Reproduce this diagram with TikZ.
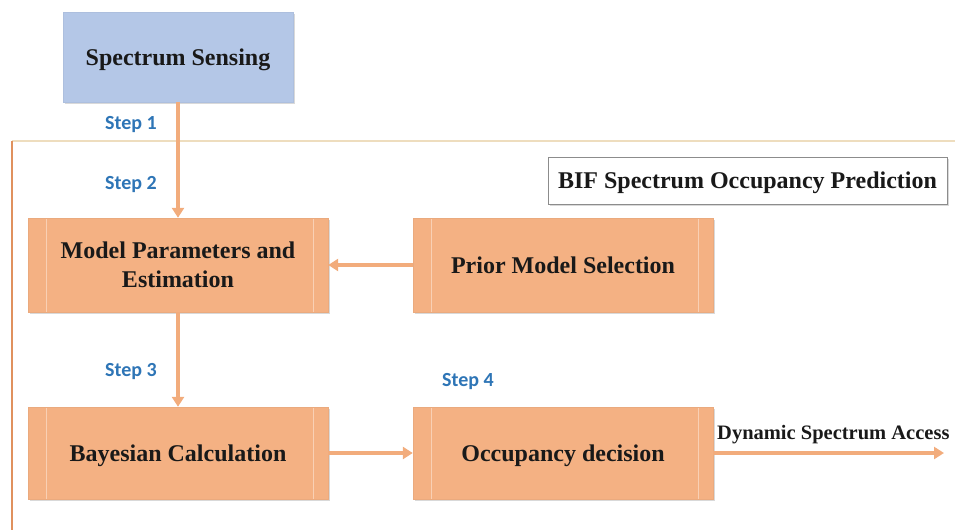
\documentclass[tikz,border=0pt]{standalone}
\usepackage{fontspec}
\setmainfont{Liberation Serif}
\newfontfamily\stepfont{Carlito}
\usetikzlibrary{arrows.meta,shadows}
\definecolor{procfill}{HTML}{F4B183}
\definecolor{procline}{HTML}{F9D0B4}
\definecolor{sensefill}{HTML}{B4C7E7}
\definecolor{flow}{HTML}{F2AC7C}
\definecolor{steptext}{HTML}{2E75B6}
\definecolor{frameleft}{HTML}{E0915E}
\definecolor{frametop}{HTML}{EEDDBE}
\begin{document}
\begin{tikzpicture}[x=1pt,y=-1pt,
  boxtext/.style={font=\bfseries\fontsize{24}{29}\selectfont, align=center, text=black!90},
  oneline/.style={text depth=0pt},
  shade box/.style={drop shadow={shadow xshift=1.5pt, shadow yshift=-2pt, opacity=0.3}},
  procbox/.style={boxtext, shade box, fill=procfill, draw=procfill!96!black, line width=0.4pt,
    minimum width=300pt, minimum height=94pt, inner sep=0pt,
    path picture={\draw[procline, line width=1pt]
      ([xshift=18pt]path picture bounding box.north west) -- ([xshift=18pt]path picture bounding box.south west)
      ([xshift=-15pt]path picture bounding box.north east) -- ([xshift=-15pt]path picture bounding box.south east);}},
  sensebox/.style={boxtext, shade box, fill=sensefill, draw=sensefill!96!black, line width=0.4pt,
    minimum width=230pt, minimum height=90pt, inner sep=0pt},
  titlebox/.style={boxtext, shade box, fill=white, draw=black!45, line width=0.8pt,
    minimum width=399pt, minimum height=47pt, inner sep=0pt},
  steplabel/.style={font=\stepfont\bfseries\fontsize{20}{23}\selectfont, text=steptext},
  flowline/.style={draw=flow, line width=3.5pt, -{Triangle[width=12pt,length=10pt]}}
]
\useasboundingbox (0,0) rectangle (955,530);

% surrounding frame of the prediction stage
\draw[frametop, line width=2pt] (12,141) -- (955,141);
\draw[frameleft, line width=1.5pt] (12,141) -- (12,530);

% blocks
\node[sensebox, oneline] (ss) at (178,57) {Spectrum Sensing};
\node[titlebox, oneline] (bif) at (747.5,180.5) {BIF Spectrum Occupancy Prediction};
\node[procbox] (mpe) at (178,265) {Model Parameters and\\Estimation};
\node[procbox, oneline] (pms) at (563,265) {Prior Model Selection};
\node[procbox, oneline, minimum height=92pt] (bc) at (178,453) {Bayesian Calculation};
\node[procbox, oneline, minimum height=92pt] (od) at (563,453) {Occupancy decision};
\coordinate (dsa) at (944,453);

% step labels
\node[steplabel] (s1) at (131,125) {Step 1};
\node[steplabel] (s2) at (131,185) {Step 2};
\node[steplabel] (s3) at (131,372) {Step 3};
\node[steplabel] (s4) at (468,382) {Step 4};

% connectors
\draw[flowline] (ss.south) -- (mpe.north);
\draw[flowline] (pms.west) -- (mpe.east);
\draw[flowline] (mpe.south) -- (bc.north);
\draw[flowline] (bc.east) -- (od.west);
\draw[flowline] (od.east) -- (dsa);
\node[anchor=base west, font=\bfseries\fontsize{20.5}{24}\selectfont, text=black!90, inner sep=0pt] (dsalabel) at (717,439) {Dynamic Spectrum Access};
\end{tikzpicture}
\end{document}
